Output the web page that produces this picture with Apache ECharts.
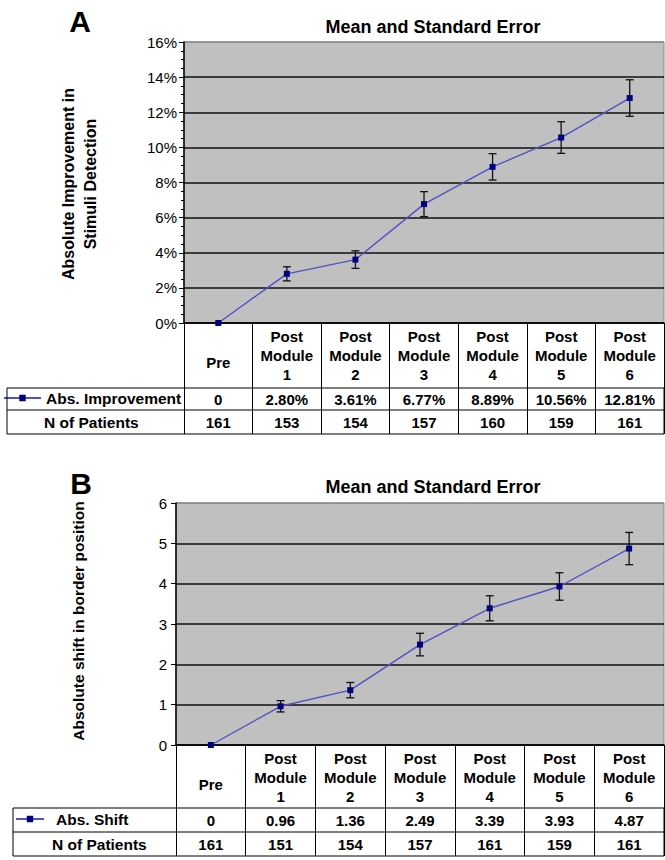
<!DOCTYPE html>
<html>
<head>
<meta charset="utf-8">
<script src="https://cdn.jsdelivr.net/npm/echarts@6/dist/echarts.min.js"></script>
<style>html,body{margin:0;padding:0;background:#fff}#c{width:665px;height:860px}</style>
</head>
<body>
<div id="c"></div>
<script>
// ---- data ----
const categories = ['Pre', 'Post Module 1', 'Post Module 2', 'Post Module 3', 'Post Module 4', 'Post Module 5', 'Post Module 6'];
const absImprovement = [0, 0.0280, 0.0361, 0.0677, 0.0889, 0.1056, 0.1281];
const seImprovement  = [0, 0.0040, 0.0050, 0.0071, 0.0075, 0.0090, 0.0104];
const nPatientsA     = [161, 153, 154, 157, 160, 159, 161];
const absShift       = [0, 0.96, 1.36, 2.49, 3.39, 3.93, 4.87];
const seShift        = [0, 0.14, 0.19, 0.28, 0.31, 0.34, 0.40];
const nPatientsB     = [161, 151, 154, 157, 161, 159, 161];
const yTicksA = { min: 0, max: 0.16, interval: 0.02 };
const yTicksB = { min: 0, max: 6, interval: 1 };

const FONT = "'Liberation Sans', Arial, sans-serif";
const LINE_COLOR = '#5252c4';
const MARK_COLOR = '#000080';

function fmtPct(v) { return v === 0 ? '0' : (v * 100).toFixed(2) + '%'; }
function fmtNum(v) { return v === 0 ? '0' : v.toFixed(2); }

const chart = echarts.init(document.getElementById('c'), null, { renderer: 'svg' });

function errItems(vals, se) {
  return vals.map((v, i) => [i, v - se[i], v + se[i]]);
}
function renderErr(params, api) {
  const x = api.value(0), lo = api.value(1), hi = api.value(2);
  if (!(hi - lo > 0)) return null;
  const p1 = api.coord([x, hi]);
  const p2 = api.coord([x, lo]);
  const w = 4;
  const st = { stroke: '#111', lineWidth: 1.3 };
  return {
    type: 'group',
    children: [
      { type: 'line', shape: { x1: p1[0], y1: p1[1], x2: p2[0], y2: p2[1] }, style: st },
      { type: 'line', shape: { x1: p1[0] - w, y1: p1[1], x2: p1[0] + w, y2: p1[1] }, style: st },
      { type: 'line', shape: { x1: p2[0] - w, y1: p2[1], x2: p2[0] + w, y2: p2[1] }, style: st }
    ]
  };
}

const headerLabel = {
  interval: 0,
  color: '#000',
  fontFamily: FONT,
  fontWeight: 'bold',
  fontSize: 15,
  lineHeight: 19,
  verticalAlign: 'middle',
  margin: 32,
  formatter: function (v) { return v === 'Pre' ? '{pre|Pre}' : v.split(' ').join('\n'); },
  rich: { pre: { fontFamily: FONT, fontWeight: 'bold', fontSize: 15, lineHeight: 19, padding: [14, 0, 0, 0], color: '#000' } }
};

function headerAxis(gridIndex) {
  return {
    type: 'category', gridIndex: gridIndex, data: categories, boundaryGap: true,
    axisLine: { show: true, lineStyle: { color: '#000', width: 1.5 } },
    axisTick: { show: true, interval: 0, alignWithLabel: false, length: 111, lineStyle: { color: '#000', width: 1 } },
    axisLabel: headerLabel,
    splitLine: { show: false }
  };
}
function rowAxis(gridIndex, offset, margin, fmt) {
  return {
    type: 'category', gridIndex: gridIndex, data: categories, position: 'bottom', offset: offset,
    axisLine: { show: false }, axisTick: { show: false }, splitLine: { show: false },
    axisLabel: {
      interval: 0, color: '#000', fontFamily: FONT, fontWeight: 'bold', fontSize: 15,
      verticalAlign: 'middle', margin: margin, formatter: fmt
    }
  };
}
function splitColors(n) {
  const arr = [];
  for (let i = 0; i < n; i++) arr.push(i === n - 1 ? '#8a8a8a' : '#111');
  return arr;
}

const option = {
  backgroundColor: '#fff',
  animation: false,
  textStyle: { fontFamily: FONT },
  title: [
    { text: 'A', left: 80, top: 6, textAlign: 'center', padding: 0, textStyle: { fontFamily: FONT, fontWeight: 'bold', fontSize: 30, color: '#000' } },
    { text: 'Mean and Standard Error', left: 433, top: 18, textAlign: 'center', padding: 0, textStyle: { fontFamily: FONT, fontWeight: 'bold', fontSize: 18, color: '#000' } },
    { text: 'B', left: 81, top: 468, textAlign: 'center', padding: 0, textStyle: { fontFamily: FONT, fontWeight: 'bold', fontSize: 30, color: '#000' } },
    { text: 'Mean and Standard Error', left: 433, top: 478, textAlign: 'center', padding: 0, textStyle: { fontFamily: FONT, fontWeight: 'bold', fontSize: 18, color: '#000' } }
  ],
  legend: [
    { data: ['Abs. Improvement'], left: 3, top: 390, padding: 0, itemWidth: 37, itemHeight: 8,
      textStyle: { fontFamily: FONT, fontWeight: 'bold', fontSize: 15.5, color: '#000', padding: [0, 0, 0, 0] } },
    { data: ['Abs. Shift'], left: 15, top: 811, padding: 0, itemWidth: 28, itemHeight: 8,
      textStyle: { fontFamily: FONT, fontWeight: 'bold', fontSize: 15.5, color: '#000', padding: [0, 0, 0, 7] } }
  ],
  grid: [
    { left: 184, top: 42, width: 480, height: 281, show: true, backgroundColor: '#c0c0c0', borderColor: '#8a8a8a', borderWidth: 1, containLabel: false },
    { left: 176, top: 503, width: 488, height: 242, show: true, backgroundColor: '#c0c0c0', borderColor: '#8a8a8a', borderWidth: 1, containLabel: false }
  ],
  xAxis: [
    headerAxis(0),
    rowAxis(0, 65, 11, function (v, i) { return fmtPct(absImprovement[i]); }),
    rowAxis(0, 87, 12, function (v, i) { return String(nPatientsA[i]); }),
    headerAxis(1),
    rowAxis(1, 63, 12, function (v, i) { return fmtNum(absShift[i]); }),
    rowAxis(1, 87, 12, function (v, i) { return String(nPatientsB[i]); })
  ],
  yAxis: [
    {
      type: 'value', gridIndex: 0, min: yTicksA.min, max: yTicksA.max, interval: yTicksA.interval,
      axisLine: { show: true, lineStyle: { color: '#000', width: 1.5 } },
      axisTick: { show: true, length: 5, lineStyle: { color: '#000' } },
      minorTick: { show: true, splitNumber: 4, length: 3, lineStyle: { color: '#000' } },
      axisLabel: { color: '#000', fontFamily: FONT, fontSize: 15, margin: 7, formatter: function (v) { return Math.round(v * 100) + '%'; } },
      splitLine: { show: true, lineStyle: { color: splitColors(9), width: 1.6 } }
    },
    {
      type: 'value', gridIndex: 1, min: yTicksB.min, max: yTicksB.max, interval: yTicksB.interval,
      axisLine: { show: true, lineStyle: { color: '#000', width: 1.5 } },
      axisTick: { show: true, length: 5, lineStyle: { color: '#000' } },
      axisLabel: { color: '#000', fontFamily: FONT, fontSize: 15, margin: 9 },
      splitLine: { show: true, lineStyle: { color: splitColors(7), width: 1.6 } }
    }
  ],
  series: [
    {
      type: 'custom', name: 'errA', xAxisIndex: 0, yAxisIndex: 0, z: 2,
      renderItem: renderErr, encode: { x: 0, y: [1, 2] }, data: errItems(absImprovement, seImprovement)
    },
    {
      type: 'line', name: 'Abs. Improvement', xAxisIndex: 0, yAxisIndex: 0, z: 3,
      data: absImprovement, symbol: 'rect', symbolSize: 6, showAllSymbol: true,
      lineStyle: { color: LINE_COLOR, width: 1.4 }, itemStyle: { color: MARK_COLOR }
    },
    {
      type: 'custom', name: 'errB', xAxisIndex: 3, yAxisIndex: 1, z: 2,
      renderItem: renderErr, encode: { x: 0, y: [1, 2] }, data: errItems(absShift, seShift)
    },
    {
      type: 'line', name: 'Abs. Shift', xAxisIndex: 3, yAxisIndex: 1, z: 3,
      data: absShift, symbol: 'rect', symbolSize: 6, showAllSymbol: true,
      lineStyle: { color: LINE_COLOR, width: 1.4 }, itemStyle: { color: MARK_COLOR }
    }
  ],
  graphic: [
    { type: 'text', x: 79, y: 184, rotation: Math.PI / 2,
      style: { text: 'Absolute Improvement in\nStimuli Detection', align: 'center', verticalAlign: 'middle', font: 'bold 16px ' + FONT, lineHeight: 22, fill: '#000' } },
    { type: 'text', x: 78, y: 621, rotation: Math.PI / 2,
      style: { text: 'Absolute shift in border position', align: 'center', verticalAlign: 'middle', font: 'bold 15.5px ' + FONT, fill: '#000' } },
    // table A
    { type: 'rect', shape: { x: 7, y: 388, width: 657, height: 46 }, style: { fill: null, stroke: '#000', lineWidth: 1 }, z: 10 },
    { type: 'line', shape: { x1: 7, y1: 410, x2: 664, y2: 410 }, style: { stroke: '#000', lineWidth: 1 }, z: 10 },
    { type: 'text', x: 44, y: 422, style: { text: 'N of Patients', align: 'left', verticalAlign: 'middle', font: 'bold 15.5px ' + FONT, fill: '#000' } },
    // table B
    { type: 'rect', shape: { x: 13, y: 808, width: 651, height: 48 }, style: { fill: null, stroke: '#000', lineWidth: 1 }, z: 10 },
    { type: 'line', shape: { x1: 13, y1: 832, x2: 664, y2: 832 }, style: { stroke: '#000', lineWidth: 1 }, z: 10 },
    { type: 'text', x: 52, y: 844, style: { text: 'N of Patients', align: 'left', verticalAlign: 'middle', font: 'bold 15.5px ' + FONT, fill: '#000' } }
  ]
};
chart.setOption(option);
</script>
</body>
</html>
